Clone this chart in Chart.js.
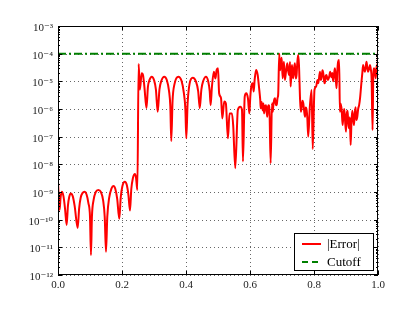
<!DOCTYPE html>
<html><head><meta charset="utf-8">
<script src="https://cdn.jsdelivr.net/npm/chart.js@4/dist/chart.umd.min.js"></script>
<style>html,body{margin:0;padding:0;background:#fff}canvas{display:block}</style>
</head><body>
<canvas id="c" width="415" height="311"></canvas>
<script>
// ---- data (x positions and log10 of |Error|) ----
const errorX = [
 0.000,0.005,0.008,0.012,0.017,0.022,0.027,0.031,0.035,0.040,0.046,0.052,0.0615,0.066,0.071,0.077,0.083,0.089,0.095,0.100,
 0.103,0.106,0.111,0.118,0.126,0.134,0.141,0.146,0.150,0.154,0.160,0.167,0.173,0.179,0.185,0.1915,0.196,0.201,0.209,0.215,
 0.220,0.225,0.229,0.234,0.2405,0.244,0.248,0.252,
 0.256,0.2615,0.266,0.270,0.2765,0.281,0.286,0.293,0.300,0.306,0.3115,0.317,0.323,0.332,0.340,0.347,0.351,0.354,0.358,0.364,
 0.376,0.386,0.393,0.398,0.401,0.405,0.411,0.421,0.431,0.438,0.443,0.448,0.454,0.4625,0.469,0.474,0.477,0.481,0.487,0.492,
 0.4955,0.500,0.5035,0.5095,0.5135,0.5195,0.5245,0.531,0.536,0.5435,0.5475,0.554,0.562,0.5695,0.575,0.578,0.5835,0.5885,0.5935,0.598,
 0.601,0.604,0.6085,0.6115,0.6145,0.619,0.624,0.6285,0.632,
 0.6335,0.6365,0.6395,0.642,0.644,0.647,0.650,0.652,0.654,0.656,0.6585,0.661,0.6645,0.6688,0.671,0.673,0.676,0.678,0.681,0.6835,0.686,0.688,0.6915,
 0.694,0.696,0.699,0.702,0.706,0.709,0.7125,0.7165,0.719,0.7225,0.725,0.727,0.731,0.733,0.735,0.738,0.7405,0.743,0.7455,0.748,0.7505,0.753,0.7565,
 0.759,0.7615,0.764,0.7665,0.769,0.772,0.774,0.777,0.779,0.782,0.787,0.7925,0.796,0.8015,0.8065,0.811,0.8135,0.8185,0.8215,0.824,
 0.8265,0.829,0.8315,0.834,0.8365,0.839,0.843,0.8475,0.8505,0.8545,0.857,0.860,0.863,0.8655,0.868,0.8705,0.873,0.8755,0.8785,0.881,
 0.883,0.8865,0.8895,0.892,0.8945,0.897,0.900,0.902,0.905,0.907,0.910,0.912,0.9145,0.917,0.9195,0.922,0.925,0.927,0.930,0.932,
 0.935,0.938,0.941,0.944,0.9485,0.951,0.9535,0.956,0.959,0.9615,0.964,0.9665,0.969,0.972,0.975,0.978,0.980,0.983,0.985,0.9875,
 0.990,0.993,0.996,0.998,1.000
];
const errorLog10 = [
 -8.63,-9.65,-9.2,-8.99,-9.15,-9.6,-10.19,-9.5,-9.18,-9.05,-9.15,-9.5,-10.3,-9.6,-9.2,-9.03,-8.99,-9.08,-9.4,-9.9,
 -11.28,-9.9,-9.3,-9.0,-8.93,-9.0,-9.3,-9.9,-11.16,-9.9,-9.2,-8.88,-8.78,-8.88,-9.25,-9.97,-9.2,-8.8,-8.63,-8.75,
 -9.1,-9.67,-8.9,-8.5,-8.35,-8.5,-8.93,-4.37,
 -5.3,-4.71,-4.8,-5.2,-5.97,-5.2,-4.95,-4.83,-4.95,-5.3,-6.1,-5.3,-4.98,-4.83,-4.95,-5.35,-5.9,-7.16,-5.7,-5.1,
 -4.83,-4.98,-5.4,-6.0,-7.06,-5.8,-5.1,-4.87,-5.0,-5.35,-5.97,-5.3,-4.98,-4.83,-4.98,-5.35,-5.86,-5.2,-4.65,-4.9,
 -4.6,-4.53,-5.43,-5.61,-6.34,-5.73,-5.79,-7.06,-6.16,-6.16,-6.6,-8.14,-6.04,-5.92,-6.04,-7.9,-5.55,-5.43,-5.61,-6.16,
 -5.55,-5.19,-5.07,-5.37,-4.95,-4.59,-4.77,-5.25,-5.67,
 -5.97,-5.75,-6.05,-5.8,-6.16,-5.9,-5.86,-6.1,-6.28,-5.95,-5.86,-6.1,-7.96,-5.79,-6.1,-5.86,-5.65,-5.61,-5.85,-5.86,-5.6,-5.49,-4.0,
 -4.6,-4.41,-4.15,-4.89,-4.29,-4.95,-4.65,-4.35,-4.6,-4.77,-4.3,-5.19,-4.41,-4.7,-4.89,-4.5,-4.35,-4.9,-4.77,-4.3,-4.05,-4.4,-5.67,
 -6.1,-5.92,-5.7,-5.79,-6.05,-6.28,-5.95,-6.04,-6.3,-7.0,-5.92,-5.31,-7.45,-5.31,-5.19,-4.95,-5.07,-4.65,-4.95,-4.83,
 -4.6,-4.71,-5.0,-5.07,-4.8,-4.77,-4.95,-4.83,-4.65,-4.85,-4.7,-5.0,-4.7,-4.53,-4.9,-5.25,-4.6,-4.29,-4.23,-6.1,
 -5.8,-6.04,-6.58,-6.2,-6.0,-6.4,-6.82,-6.2,-6.06,-6.5,-6.7,-6.3,-7.3,-6.5,-6.06,-6.3,-6.58,-6.2,-5.94,-6.4,
 -6.3,-6.0,-5.86,-5.6,-5.0,-4.7,-4.41,-4.55,-4.65,-4.5,-4.29,-4.5,-4.65,-4.55,-4.41,-4.6,-4.89,-6.76,-5.0,-4.53,
 -4.6,-4.89,-4.41,-4.7,-3.8
];
const cutoffX = [0, 1];
const cutoffValues = [1e-4, 1e-4];
const xTicks = [0, 0.2, 0.4, 0.6, 0.8, 1.0];
const yTickExponents = [-12, -11, -10, -9, -8, -7, -6, -5, -4, -3];
const seriesLabels = ['|Error|', 'Cutoff'];

// ---- build chart ----
const errorPoints = errorX.map((x, i) => ({x, y: Math.pow(10, errorLog10[i])}));
const cutoffPoints = cutoffX.map((x, i) => ({x, y: cutoffValues[i]}));
const SUP = {'-':'\u207B','0':'\u2070','1':'\u00B9','2':'\u00B2','3':'\u00B3','4':'\u2074','5':'\u2075','6':'\u2076','7':'\u2077','8':'\u2078','9':'\u2079'};
const sup = n => String(n).split('').map(c => SUP[c]).join('');
const SERIF = '"Liberation Serif","DejaVu Serif",serif';

const framePlugin = {
  id: 'frame',
  beforeDatasetsDraw(chart) {
    const {ctx, chartArea: a, scales: {x, y}} = chart;
    ctx.save();
    ctx.strokeStyle = 'rgba(0,0,0,0.75)';
    ctx.lineWidth = 0.8;
    ctx.setLineDash([1, 3]);
    xTicks.forEach(v => { const px = Math.round(x.getPixelForValue(v)) + 0.5;
      ctx.beginPath(); ctx.moveTo(px, a.top); ctx.lineTo(px, a.bottom); ctx.stroke(); });
    yTickExponents.forEach(e => { const py = Math.round(y.getPixelForValue(Math.pow(10, e))) + 0.5;
      ctx.beginPath(); ctx.moveTo(a.left, py); ctx.lineTo(a.right, py); ctx.stroke(); });
    ctx.restore();
  },
  afterDraw(chart) {
    const {ctx, chartArea: a, scales: {x, y}} = chart;
    ctx.save();
    ctx.strokeStyle = '#000';
    ctx.lineWidth = 1;
    ctx.setLineDash([]);
    ctx.strokeRect(a.left + 0.5, a.top + 0.5, a.right - a.left - 1, a.bottom - a.top - 1);
    ctx.beginPath();
    xTicks.forEach(v => { const px = Math.round(x.getPixelForValue(v)) + 0.5;
      ctx.moveTo(px, a.bottom); ctx.lineTo(px, a.bottom - 4);
      ctx.moveTo(px, a.top); ctx.lineTo(px, a.top + 4); });
    yTickExponents.forEach(e => {
      const py = Math.round(y.getPixelForValue(Math.pow(10, e))) + 0.5;
      ctx.moveTo(a.left, py); ctx.lineTo(a.left + 4, py);
      ctx.moveTo(a.right, py); ctx.lineTo(a.right - 4, py);
      if (e < yTickExponents[yTickExponents.length - 1]) {
        for (let m = 2; m <= 9; m++) {
          const pm = Math.round(y.getPixelForValue(m * Math.pow(10, e))) + 0.5;
          ctx.moveTo(a.left, pm); ctx.lineTo(a.left + 2, pm);
          ctx.moveTo(a.right, pm); ctx.lineTo(a.right - 2, pm);
        }
      }
    });
    ctx.stroke();

    // legend
    const bx = 294.5, by = 233.5, bw = 79, bh = 37;
    ctx.fillStyle = '#fff';
    ctx.fillRect(bx, by, bw, bh);
    ctx.strokeRect(bx, by, bw, bh);
    const ds = chart.data.datasets;
    const rows = [244, 262];
    ds.forEach((d, i) => {
      ctx.strokeStyle = d.borderColor;
      ctx.lineWidth = d.borderWidth;
      ctx.setLineDash(i === 1 ? [6, 4] : []);
      ctx.beginPath(); ctx.moveTo(302, rows[i]); ctx.lineTo(321, rows[i]); ctx.stroke();
      ctx.setLineDash([]);
      ctx.fillStyle = '#000';
      ctx.font = '13px ' + SERIF;
      ctx.textBaseline = 'middle';
      ctx.textAlign = 'left';
      ctx.fillText(d.label, 327, rows[i] + 0.5);
    });
    ctx.restore();
  }
};

new Chart(document.getElementById('c'), {
  type: 'line',
  data: {
    datasets: [
      {label: seriesLabels[0], data: errorPoints, borderColor: '#ff0000', borderWidth: 2, pointRadius: 0, fill: false,
       cubicInterpolationMode: 'monotone', borderJoinStyle: 'round'},
      {label: seriesLabels[1], data: cutoffPoints, borderColor: '#007f00', borderWidth: 2, pointRadius: 0, fill: false, borderDash: [8, 3, 2, 3]}
    ]
  },
  options: {
    responsive: false,
    animation: false,
    devicePixelRatio: 1,
    layout: {padding: {left: 0, right: 37, top: 26, bottom: 0}},
    plugins: {legend: {display: false}, tooltip: {enabled: false}},
    scales: {
      x: {
        type: 'linear', min: 0, max: 1,
        afterBuildTicks: s => { s.ticks = xTicks.map(v => ({value: v})); },
        afterFit: s => { s.height = 36; },
        grid: {display: false, drawTicks: false},
        border: {display: false},
        ticks: {padding: 4, color: '#222', font: {family: SERIF, size: 11}, callback: v => Number(v).toFixed(1), maxRotation: 0}
      },
      y: {
        type: 'logarithmic', min: 1e-12, max: 1e-3,
        afterBuildTicks: s => { s.ticks = yTickExponents.map(e => ({value: Math.pow(10, e)})); },
        afterFit: s => { s.width = 58; },
        grid: {display: false, drawTicks: false},
        border: {display: false},
        ticks: {padding: 5, labelOffset: 2, color: '#222', font: {family: SERIF, size: 11}, autoSkip: false,
          callback: v => '10' + sup(Math.round(Math.log10(v)))}
      }
    }
  },
  plugins: [framePlugin]
});
</script>
</body></html>
